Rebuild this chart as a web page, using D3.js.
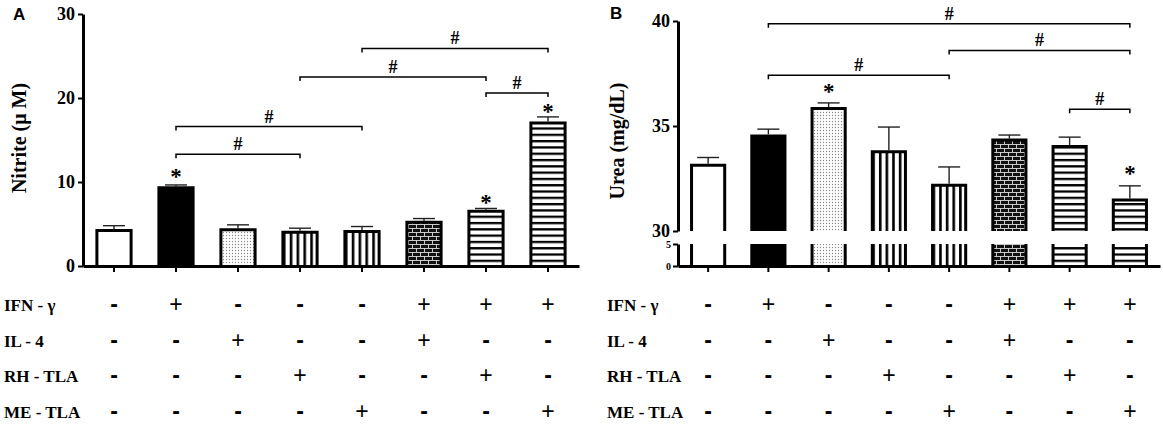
<!DOCTYPE html>
<html>
<head>
<meta charset="utf-8">
<script src="https://cdn.jsdelivr.net/npm/d3@7"></script>
<style>
  body { margin: 0; background: #fff; }
  svg { display: block; }
</style>
</head>
<body>
<div id="Area"></div>
<script>
// groups, in the order they stand on both panels
var groups = ["Control", "IFN-γ", "IL-4", "RH-TLA", "ME-TLA", "IFN-γ+IL-4", "IFN-γ+RH-TLA", "IFN-γ+ME-TLA"];
var fills = ["white", "black", "dots", "vstripe", "vstripe", "brick", "hstripe", "hstripe"];

// treatment table under the bars
var rowLabels = ["IFN - γ", "IL - 4", "RH - TLA", "ME - TLA"];
var ifnRow = ["-", "+", "-", "-", "-", "+", "+", "+"];
var il4Row = ["-", "-", "+", "-", "-", "+", "-", "-"];
var rhRow  = ["-", "-", "-", "+", "-", "-", "+", "-"];
var meRow  = ["-", "-", "-", "-", "+", "-", "-", "+"];
var rows = [ifnRow, il4Row, rhRow, meRow];

// panel A : nitrite
var nitriteMean = [4.4, 9.5, 4.5, 4.2, 4.3, 5.4, 6.7, 17.2];
var nitriteErr  = [0.4, 0.15, 0.4, 0.3, 0.4, 0.25, 0.15, 0.55];
var nitriteTicks = [0, 10, 20, 30];
var nitriteBrackets = [[1, 3, 13.3], [1, 4, 16.6], [3, 6, 22.5], [4, 7, 25.9], [6, 7, 20.6]];
var nitriteStars = [[1, 11.1], [6, 8.0], [7, 18.8]];

// panel B : urea (broken axis 5 -> 30)
var ureaMean = [33.2, 34.6, 35.9, 33.85, 32.25, 34.4, 34.1, 31.55];
var ureaErr  = [0.3, 0.25, 0.2, 1.1, 0.8, 0.17, 0.37, 0.6];
var ureaTicksTop = [30, 35, 40];
var ureaTicksLow = [0, 5];
var ureaBrackets = [[1, 7, 39.87], [4, 7, 38.6], [1, 4, 37.42], [6, 7, 35.8]];
var ureaStars = [[2, 36.8], [7, 32.9]];

var serif = "'Liberation Serif', 'Times New Roman', serif";
var sans = "'Liberation Sans', Arial, sans-serif";

var svg = d3.select("#Area")
  .append("svg")
    .attr("width", 1163)
    .attr("height", 424);

svg.append("rect").attr("width", 1163).attr("height", 424).attr("fill", "#fff");

// fill patterns
var defs = svg.append("defs");

var dots = defs.append("pattern").attr("id", "dots")
  .attr("patternUnits", "userSpaceOnUse").attr("width", 3).attr("height", 3);
dots.append("rect").attr("width", 3).attr("height", 3).attr("fill", "#fff");
dots.append("circle").attr("cx", 1.5).attr("cy", 1.5).attr("r", 0.65).attr("fill", "#888");

var vs = defs.append("pattern").attr("id", "vstripe")
  .attr("patternUnits", "objectBoundingBox").attr("width", 0.2).attr("height", 1);
vs.append("rect").attr("width", 40).attr("height", 400).attr("fill", "#fff");
vs.append("rect").attr("x", 0).attr("width", 2.6).attr("height", 400).attr("fill", "#000");

var hs = defs.append("pattern").attr("id", "hstripe")
  .attr("patternUnits", "userSpaceOnUse").attr("y", 266 % 6.3).attr("width", 10).attr("height", 6.3);
hs.append("rect").attr("width", 10).attr("height", 6.3).attr("fill", "#fff");
hs.append("rect").attr("width", 10).attr("height", 2.3).attr("fill", "#000");

var br = defs.append("pattern").attr("id", "brick")
  .attr("patternUnits", "userSpaceOnUse").attr("width", 8).attr("height", 8);
br.append("rect").attr("width", 8).attr("height", 8).attr("fill", "#111");
br.append("rect").attr("y", 0).attr("width", 8).attr("height", 0.9).attr("fill", "#ddd");
br.append("rect").attr("y", 4).attr("width", 8).attr("height", 0.9).attr("fill", "#ddd");
br.append("rect").attr("x", 0).attr("y", 0).attr("width", 0.9).attr("height", 4).attr("fill", "#ddd");
br.append("rect").attr("x", 4).attr("y", 4).attr("width", 0.9).attr("height", 4).attr("fill", "#ddd");

function fillOf(f) {
  if (f == "white") return "#fff";
  if (f == "black") return "#000";
  return "url(#" + f + ")";
}

function styleAxis(g, size) {
  g.select(".domain").attr("stroke", "#000").attr("stroke-width", 3);
  g.selectAll(".tick line").attr("stroke", "#000").attr("stroke-width", 2);
  g.selectAll(".tick text")
    .attr("fill", "#000")
    .style("font-family", serif)
    .style("font-weight", "bold")
    .style("font-size", size + "px");
}

// draw one panel; segs are the y pieces (one for A, two for the broken B axis)
function drawPanel(x, segs, mean, err, brackets, stars, topScale) {
  var bw = x.bandwidth();

  segs.forEach(function(s) {
    var lo = s.scale.domain()[0], hi = s.scale.domain()[1];
    groups.forEach(function(gname, i) {
      var v = mean[i];
      if (v <= lo) return;
      var top = Math.min(v, hi);
      var x0 = x(gname);
      svg.append("rect")
        .attr("x", x0 + 1.5)
        .attr("y", s.scale(top) + (v <= hi ? 1.5 : 0))
        .attr("width", bw - 3)
        .attr("height", s.scale(lo) - s.scale(top) - (v <= hi ? 1.5 : 0))
        .attr("fill", fillOf(fills[i]));
      var l = x0 + 1.5, r = x0 + bw - 1.5, yb = s.scale(lo), yt = s.scale(top) + 1.5;
      var d = v <= hi
        ? "M" + l + "," + yb + "V" + yt + "H" + r + "V" + yb
        : "M" + l + "," + yb + "V" + s.scale(top) + "M" + r + "," + yb + "V" + s.scale(top);
      svg.append("path").attr("d", d)
        .attr("fill", "none").attr("stroke", "#000").attr("stroke-width", 3);
    });
  });

  // error bars, upper half only
  groups.forEach(function(gname, i) {
    var cx = x(gname) + bw / 2;
    var y1 = topScale(mean[i]), y2 = topScale(mean[i] + err[i]);
    svg.append("line").attr("x1", cx).attr("x2", cx).attr("y1", y1).attr("y2", y2)
      .attr("stroke", "#222").attr("stroke-width", 1.4);
    svg.append("line").attr("x1", cx - 11).attr("x2", cx + 11).attr("y1", y2).attr("y2", y2)
      .attr("stroke", "#222").attr("stroke-width", 1.4);
  });

  // significance brackets
  brackets.forEach(function(b) {
    var xa = x(groups[b[0]]) + bw / 2, xb = x(groups[b[1]]) + bw / 2, yy = topScale(b[2]);
    svg.append("path")
      .attr("d", "M" + xa + "," + (yy + 4) + "V" + yy + "H" + xb + "V" + (yy + 4))
      .attr("fill", "none").attr("stroke", "#000").attr("stroke-width", 1.5);
    svg.append("text")
      .attr("x", (xa + xb) / 2).attr("y", yy - 4)
      .attr("text-anchor", "middle")
      .style("font-family", serif).style("font-weight", "bold").style("font-size", "18px")
      .text("#");
  });

  stars.forEach(function(s) {
    svg.append("text")
      .attr("x", x(groups[s[0]]) + bw / 2).attr("y", topScale(s[1]) + 11)
      .attr("text-anchor", "middle")
      .style("font-family", serif).style("font-weight", "bold").style("font-size", "23px")
      .text("*");
  });
}

function drawTable(x, labelX) {
  var bw = x.bandwidth();
  rows.forEach(function(row, r) {
    var yy = 311 + r * 35.5;
    svg.append("text")
      .attr("x", labelX).attr("y", yy)
      .style("font-family", serif).style("font-weight", "bold").style("font-size", "17px")
      .text(rowLabels[r]);
    svg.selectAll(null)
      .data(row)
      .enter()
      .append("text")
      .attr("x", function(d, i) { return x(groups[i]) + bw / 2; })
      .attr("y", yy + 1)
      .attr("text-anchor", "middle")
      .style("font-family", sans)
      .style("font-size", "23px")
      .style("font-weight", function(d) { return d == "-" ? "bold" : "normal"; })
      .text(function(d) { return d; });
  });
}

// ---------- panel A ----------
var xA = d3.scaleBand().domain(groups).range([83, 579]).paddingInner(0.4).paddingOuter(0.2);
var yA = d3.scaleLinear().domain([0, 30]).range([266, 14]);

drawPanel(xA, [{ scale: yA }], nitriteMean, nitriteErr, nitriteBrackets, nitriteStars, yA);

svg.append("g")
  .attr("transform", "translate(83,0)")
  .call(d3.axisLeft(yA).tickValues(nitriteTicks).tickFormat(d3.format("d")).tickSize(5).tickSizeOuter(0).tickPadding(3))
  .call(styleAxis, 18);

svg.append("g")
  .attr("transform", "translate(0,266)")
  .call(d3.axisBottom(xA).tickSize(6).tickSizeOuter(0).tickFormat(""))
  .call(styleAxis, 18);

svg.append("text")
  .attr("transform", "translate(26,138) rotate(-90)")
  .attr("text-anchor", "middle")
  .style("font-family", serif).style("font-weight", "bold").style("font-size", "20px")
  .text("Nitrite (μ M)");

svg.append("text").attr("x", 13).attr("y", 20)
  .style("font-family", sans).style("font-weight", "bold").style("font-size", "17px")
  .text("A");

drawTable(xA, 4);

// ---------- panel B ----------
var xB = d3.scaleBand().domain(groups).range([678, 1160]).paddingInner(0.4).paddingOuter(0.2);
var yBtop = d3.scaleLinear().domain([30, 40]).range([231, 21]);
var yBlow = d3.scaleLinear().domain([0, 5]).range([266, 244]);

drawPanel(xB, [{ scale: yBtop }, { scale: yBlow }], ureaMean, ureaErr, ureaBrackets, ureaStars, yBtop);

svg.append("g")
  .attr("transform", "translate(678,0)")
  .call(d3.axisLeft(yBtop).tickValues(ureaTicksTop).tickFormat(d3.format("d")).tickSize(5).tickSizeOuter(0).tickPadding(3))
  .call(styleAxis, 18);

svg.append("g")
  .attr("transform", "translate(678,0)")
  .call(d3.axisLeft(yBlow).tickValues(ureaTicksLow).tickFormat(d3.format("d")).tickSize(5).tickSizeOuter(0).tickPadding(2))
  .call(styleAxis, 10);

svg.append("g")
  .attr("transform", "translate(0,266)")
  .call(d3.axisBottom(xB).tickSize(6).tickSizeOuter(0).tickFormat(""))
  .call(styleAxis, 18);

svg.append("text")
  .attr("transform", "translate(624,141) rotate(-90)")
  .attr("text-anchor", "middle")
  .style("font-family", serif).style("font-weight", "bold").style("font-size", "20px")
  .text("Urea (mg/dL)");

svg.append("text").attr("x", 610).attr("y", 19)
  .style("font-family", sans).style("font-weight", "bold").style("font-size", "17px")
  .text("B");

drawTable(xB, 607);
</script>
</body>
</html>
